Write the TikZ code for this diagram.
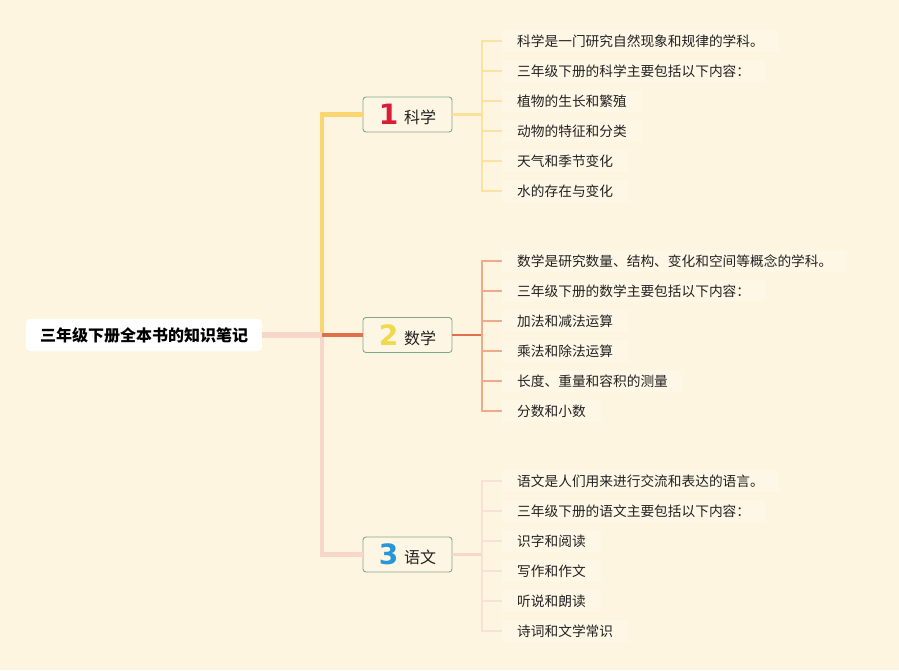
\documentclass[tikz,border=0pt]{standalone}
\usepackage{fontspec}
\setmainfont{Noto Sans CJK SC}
\newfontfamily\digitfont{DejaVu Sans}
\definecolor{bg}{HTML}{FEF5E1}
\definecolor{leafbg}{HTML}{FEF7E6}
\definecolor{txt}{HTML}{222222}
\definecolor{trunkyellow}{HTML}{F9D672}
\definecolor{trunkpink}{HTML}{F8D7CA}
\definecolor{trunkorange}{HTML}{E0704C}
\definecolor{leafyellow}{HTML}{FAE2A2}
\definecolor{leaforange}{HTML}{EFAA8C}
\definecolor{leafpink}{HTML}{F8E2D6}
\definecolor{boxc}{HTML}{7FA88C}
\definecolor{boxfill}{HTML}{FEF6E4}
\definecolor{dred}{HTML}{D81E36}
\definecolor{dyellow}{HTML}{F2D84C}
\definecolor{dblue}{HTML}{2596D8}
\begin{document}
\begin{tikzpicture}[x=1pt,y=-1pt,
  rootbox/.style={fill=white, rounded corners=4pt, minimum width=236pt, minimum height=32pt, inner sep=0pt,
    font=\fontsize{16}{16}\selectfont\bfseries, text=black},
  branchbox/.style={draw=boxc, line width=0.9pt, rounded corners=3pt, fill=boxfill, minimum width=89pt,
    minimum height=35pt, inner sep=0pt, font=\fontsize{16}{16}\selectfont, text=txt},
  leaf/.style={anchor=west, fill=leafbg, inner xsep=15pt, inner ysep=5pt, font=\fontsize{13.7}{14}\selectfont, text=txt},
  rootline/.style={draw=trunkpink, line width=6pt},
  trunk/.style={line width=4.5pt},
  twig/.style={line width=2.2pt},
  leafline/.style={line width=1.3pt},
]
\useasboundingbox[fill=bg] (0,0) rectangle (899,670);
\newcommand{\dg}[2]{\raisebox{-1pt}{\digitfont\bfseries\fontsize{28}{28}\selectfont\color{#1}#2}\hspace{6pt}}

% root
\node[rootbox] (root) at (144,335) {三年级下册全本书的知识笔记};
\coordinate (trunkc) at (322,335);

% branches
\node[branchbox] (b1) at (407.5,114.5) {\dg{dred}{1}科学};
\node[branchbox] (b2) at (407.5,335) {\dg{dyellow}{2}数学};
\node[branchbox] (b3) at (407.5,554.5) {\dg{dblue}{3}语文};

% trunk connectors
\draw[trunk, draw=trunkyellow] (trunkc) |- (b1.west);
\draw[trunk, draw=trunkpink] (trunkc) |- (b3.west);
\draw[trunk, draw=trunkorange] (trunkc) -- (b2.west);
\draw[rootline] (root.east) -- (trunkc);

% junctions
\coordinate (j1) at (482,114.5);
\coordinate (j2) at (482,335);
\coordinate (j3) at (482,554.5);

% leaves: science
\node[leaf] (l11) at (502,41) {科学是一门研究自然现象和规律的学科。};
\node[leaf] (l12) at (502,71) {三年级下册的科学主要包括以下内容：};
\node[leaf] (l13) at (502,101) {植物的生长和繁殖};
\node[leaf] (l14) at (502,131) {动物的特征和分类};
\node[leaf] (l15) at (502,161) {天气和季节变化};
\node[leaf] (l16) at (502,191) {水的存在与变化};
% leaves: math
\node[leaf] (l21) at (502,261) {数学是研究数量、结构、变化和空间等概念的学科。};
\node[leaf] (l22) at (502,291) {三年级下册的数学主要包括以下内容：};
\node[leaf] (l23) at (502,321) {加法和减法运算};
\node[leaf] (l24) at (502,351) {乘法和除法运算};
\node[leaf] (l25) at (502,381) {长度、重量和容积的测量};
\node[leaf] (l26) at (502,411) {分数和小数};
% leaves: chinese
\node[leaf] (l31) at (502,481) {语文是人们用来进行交流和表达的语言。};
\node[leaf] (l32) at (502,511) {三年级下册的语文主要包括以下内容：};
\node[leaf] (l33) at (502,541) {识字和阅读};
\node[leaf] (l34) at (502,571) {写作和作文};
\node[leaf] (l35) at (502,601) {听说和朗读};
\node[leaf] (l36) at (502,631) {诗词和文学常识};

% branch to junction
\draw[twig, draw=leafyellow!85!trunkyellow] (b1.east) -- (j1);
\draw[twig, draw=trunkorange] (b2.east) -- (j2);
\draw[twig, draw=trunkpink] (b3.east) -- (j3);

% leaf connectors
\foreach \i in {1,...,6} {
  \draw[leafline, draw=leafyellow] (j1) |- (l1\i.west);
  \draw[leafline, draw=leaforange] (j2) |- (l2\i.west);
  \draw[leafline, draw=leafpink] (j3) |- (l3\i.west);
}
\end{tikzpicture}
\end{document}
